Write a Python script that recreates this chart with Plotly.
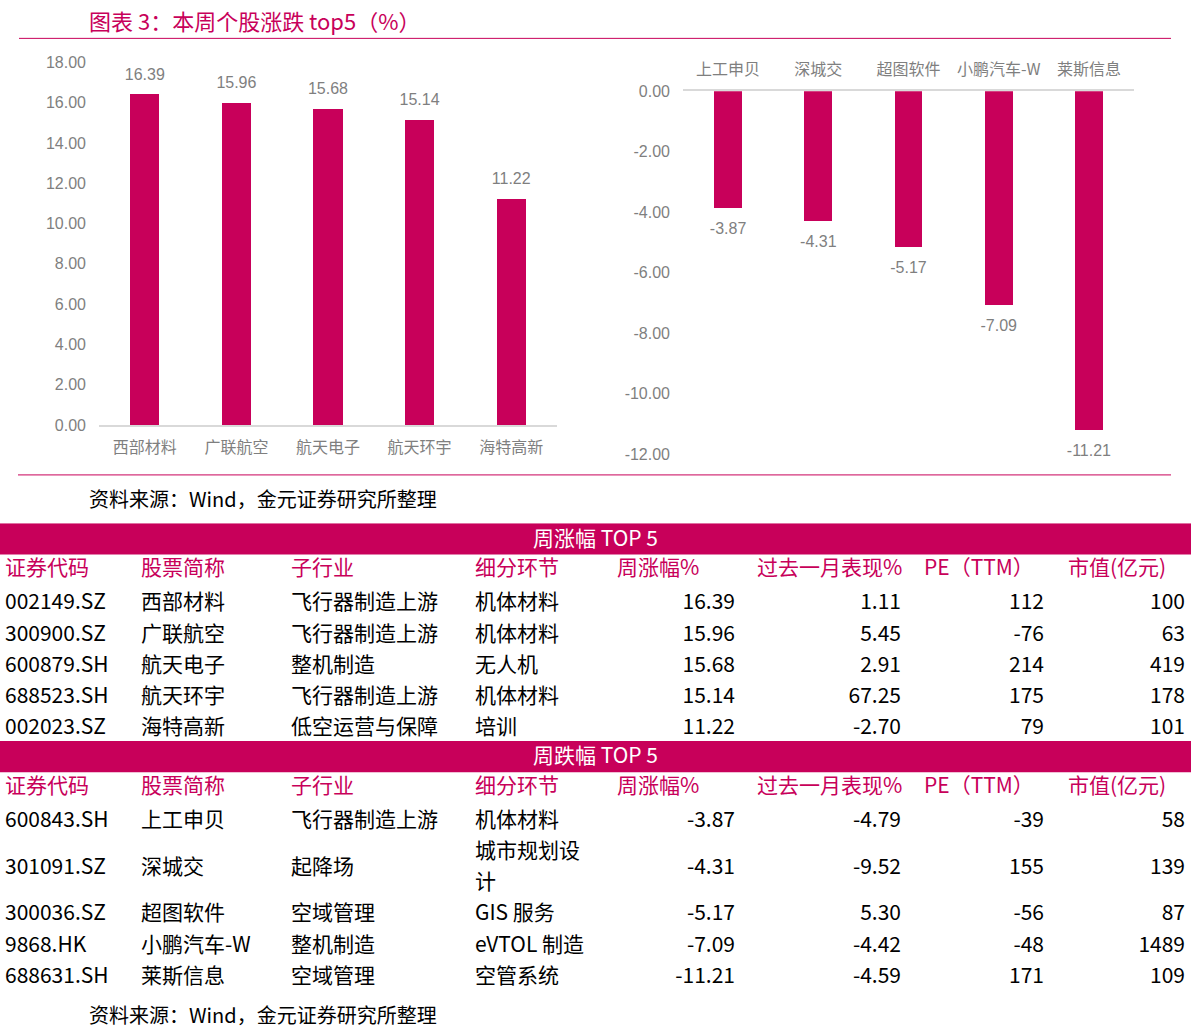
import plotly.graph_objects as go

W, H = 1191, 1036
CRIMSON = "#C8005A"
GRAY = "#7F7F7F"
CJK = "Noto Sans CJK SC"
LAT = "Liberation Sans"

# ---------------- data ----------------
title_text = "图表 3：本周个股涨跌 top5（%）"
source_text = "资料来源：Wind，金元证券研究所整理"
col_headers = ["证券代码", "股票简称", "子行业", "细分环节", "周涨幅%", "过去一月表现%", "PE（TTM）", "市值(亿元)"]

up_title = "周涨幅 TOP 5"
up_codes = ["002149.SZ", "300900.SZ", "600879.SH", "688523.SH", "002023.SZ"]
up_names = ["西部材料", "广联航空", "航天电子", "航天环宇", "海特高新"]
up_industry = ["飞行器制造上游", "飞行器制造上游", "整机制造", "飞行器制造上游", "低空运营与保障"]
up_segment = ["机体材料", "机体材料", "无人机", "机体材料", "培训"]
up_week = [16.39, 15.96, 15.68, 15.14, 11.22]
up_month = [1.11, 5.45, 2.91, 67.25, -2.70]
up_pe = [112, -76, 214, 175, 79]
up_cap = [100, 63, 419, 178, 101]

down_title = "周跌幅 TOP 5"
down_codes = ["600843.SH", "301091.SZ", "300036.SZ", "9868.HK", "688631.SH"]
down_names = ["上工申贝", "深城交", "超图软件", "小鹏汽车-W", "莱斯信息"]
down_industry = ["飞行器制造上游", "起降场", "空域管理", "整机制造", "空域管理"]
down_segment = ["机体材料", "城市规划设计", "GIS 服务", "eVTOL 制造", "空管系统"]
down_week = [-3.87, -4.31, -5.17, -7.09, -11.21]
down_month = [-4.79, -9.52, 5.30, -4.42, -4.59]
down_pe = [-39, 155, -56, -48, 171]
down_cap = [58, 139, 87, 1489, 109]

left_ticks = [0, 2, 4, 6, 8, 10, 12, 14, 16, 18]
right_ticks = [0, -2, -4, -6, -8, -10, -12]

# ---------------- helpers ----------------
S_Y, OFF_Y = 0.9846, 7.6  # vertical calibration of the captured page


def py(r):
    return (r - OFF_Y) / S_Y


def fx(px):
    return px / W


def fy(r):
    return 1 - py(r) / H


def vis_width(s):
    return sum(2 if ord(c) > 0x2E80 else 1 for c in s)


def wrap(s, limit):
    lines, cur = [], ""
    for c in s:
        if cur and vis_width(cur + c) > limit:
            lines.append(cur)
            cur = c
        else:
            cur += c
    lines.append(cur)
    return lines


fig = go.Figure()

# ---------------- bar charts ----------------
fig.add_trace(go.Bar(
    x=up_names, y=up_week, width=0.32, marker=dict(color=CRIMSON, line=dict(width=0)),
    xaxis="x", yaxis="y", hoverinfo="skip", showlegend=False))
fig.add_trace(go.Scatter(
    x=up_names, y=up_week, mode="markers+text", text=[f"{v:.2f}" for v in up_week],
    textposition="top center", marker=dict(size=16, color="rgba(0,0,0,0)"),
    textfont=dict(family=LAT, size=16, color=GRAY), cliponaxis=False,
    xaxis="x", yaxis="y", hoverinfo="skip", showlegend=False))

fig.add_trace(go.Bar(
    x=down_names, y=down_week, width=0.31, marker=dict(color=CRIMSON, line=dict(width=0)),
    xaxis="x2", yaxis="y2", hoverinfo="skip", showlegend=False))
fig.add_trace(go.Scatter(
    x=down_names, y=down_week, mode="markers+text", text=[f"{v:.2f}" for v in down_week],
    textposition="bottom center", marker=dict(size=20, color="rgba(0,0,0,0)"),
    textfont=dict(family=LAT, size=16, color=GRAY), cliponaxis=False,
    xaxis="x2", yaxis="y2", hoverinfo="skip", showlegend=False))

# ---------------- table ----------------
col_x = [5, 141, 291, 475, 735, 901, 1044, 1185]
col_left = [True, True, True, True, False, False, False, False]
head_x = [5, 141, 291, 475, 617, 757, 924, 1068]
wrap_limit = [99, 99, 99, 10, 99, 99, 99, 99]
TEXT_DY = 0.1
TFONT = 21

tables = [
    (up_title, [up_codes, up_names, up_industry, up_segment,
                [f"{v:.2f}" for v in up_week], [f"{v:.2f}" for v in up_month],
                [str(v) for v in up_pe], [str(v) for v in up_cap]]),
    (down_title, [down_codes, down_names, down_industry, down_segment,
                  [f"{v:.2f}" for v in down_week], [f"{v:.2f}" for v in down_month],
                  [str(v) for v in down_pe], [str(v) for v in down_cap]]),
]

band_rows = []
pos = 0
cells = [[] for _ in col_x]
header_rows = []
band_texts = []
for title, cols in tables:
    band_rows.append(pos)
    band_texts.append((pos, title))
    pos += 1
    header_rows.append(pos)
    pos += 1
    nrows = len(cols[0])
    for r in range(nrows):
        wrapped = [wrap(cols[c][r], wrap_limit[c]) for c in range(len(cols))]
        nlines = max(len(w) for w in wrapped)
        for c, w in enumerate(wrapped):
            if len(w) == 1:
                cells[c].append((pos + (nlines - 1) / 2, w[0]))
            else:
                for i, line in enumerate(w):
                    cells[c].append((pos + i, line))
        pos += nlines
total_units = pos
PITCH = 31.14
TABLE_TOP = 523.4
table_bottom = TABLE_TOP + total_units * PITCH

for c in range(len(col_x)):
    fig.add_trace(go.Scatter(
        x=[col_x[c]] * len(cells[c]), y=[p + TEXT_DY for p, _ in cells[c]],
        text=[t for _, t in cells[c]], mode="text",
        textposition="middle right" if col_left[c] else "middle left",
        textfont=dict(family=CJK, size=TFONT, color="#000000"),
        xaxis="x3", yaxis="y3", hoverinfo="skip", showlegend=False, cliponaxis=False))

for c in range(len(col_headers)):
    fig.add_trace(go.Scatter(
        x=[head_x[c]] * len(header_rows), y=[h for h in header_rows],
        text=[col_headers[c]] * len(header_rows), mode="text",
        textposition="middle right",
        textfont=dict(family=CJK, size=TFONT, color=CRIMSON),
        xaxis="x3", yaxis="y3", hoverinfo="skip", showlegend=False, cliponaxis=False))

fig.add_trace(go.Scatter(
    x=[W / 2] * len(band_texts), y=[p + 0.05 for p, _ in band_texts],
    text=[t for _, t in band_texts], mode="text", textposition="middle center",
    textfont=dict(family=CJK, size=TFONT, color="#FFFFFF"),
    xaxis="x3", yaxis="y3", hoverinfo="skip", showlegend=False, cliponaxis=False))

shapes = []
for b in band_rows:
    shapes.append(dict(type="rect", xref="paper", yref="y3", x0=0, x1=1,
                       y0=b - 0.5, y1=b + 0.5, fillcolor=CRIMSON,
                       line=dict(width=0), layer="below"))
shapes.append(dict(type="line", xref="paper", yref="paper", x0=fx(19), x1=fx(1171),
                   y0=fy(38), y1=fy(38), line=dict(color=CRIMSON, width=1)))
shapes.append(dict(type="line", xref="paper", yref="paper", x0=fx(18), x1=fx(1171),
                   y0=fy(475), y1=fy(475), line=dict(color=CRIMSON, width=1)))

annotations = [
    dict(text=title_text, x=fx(87), y=fy(20), xref="paper", yref="paper",
         xanchor="left", yanchor="middle", showarrow=False,
         font=dict(family=CJK, size=22, color=CRIMSON)),
    dict(text=source_text, x=fx(87), y=fy(499), xref="paper", yref="paper",
         xanchor="left", yanchor="middle", showarrow=False,
         font=dict(family=CJK, size=20, color="#000000")),
    dict(text=source_text, x=fx(87), y=fy(1015), xref="paper", yref="paper",
         xanchor="left", yanchor="middle", showarrow=False,
         font=dict(family=CJK, size=20, color="#000000")),
]

fig.update_layout(
    width=W, height=H, margin=dict(l=0, r=0, t=0, b=0),
    paper_bgcolor="white", plot_bgcolor="rgba(0,0,0,0)",
    showlegend=False, bargap=0, shapes=shapes, annotations=annotations,
    xaxis=dict(domain=[fx(99), fx(557)], anchor="y", showline=True, linecolor="#D9D9D9",
               linewidth=2, showgrid=False, zeroline=False, ticks="",
               tickfont=dict(family=CJK, size=16, color=GRAY), ticklabelstandoff=7,
               fixedrange=True),
    yaxis=dict(domain=[fy(425), fy(62)], anchor="x", range=[0, 18],
               tickvals=left_ticks, ticktext=[f"{v:.2f}" for v in left_ticks],
               showgrid=False, zeroline=False, showline=False, ticks="",
               tickfont=dict(family=LAT, size=16, color=GRAY), ticklabelstandoff=12,
               fixedrange=True),
    xaxis2=dict(domain=[fx(683), fx(1134)], anchor="y2", side="top", showline=True,
                linecolor="#D9D9D9", linewidth=2, showgrid=False, zeroline=False, ticks="",
                tickfont=dict(family=CJK, size=16, color=GRAY), ticklabelstandoff=8,
                fixedrange=True),
    yaxis2=dict(domain=[fy(454), fy(91)], anchor="x2", range=[-12, 0],
                tickvals=right_ticks, ticktext=[f"{v:.2f}" for v in right_ticks],
                showgrid=False, zeroline=False, showline=False, ticks="",
                tickfont=dict(family=LAT, size=16, color=GRAY), ticklabelstandoff=12,
                fixedrange=True),
    xaxis3=dict(domain=[0, 1], anchor="y3", range=[0, W], visible=False, fixedrange=True),
    yaxis3=dict(domain=[fy(table_bottom), fy(TABLE_TOP)], anchor="x3",
                range=[total_units - 0.5, -0.5], visible=False, fixedrange=True),
)

fig.write_html("out.html")
